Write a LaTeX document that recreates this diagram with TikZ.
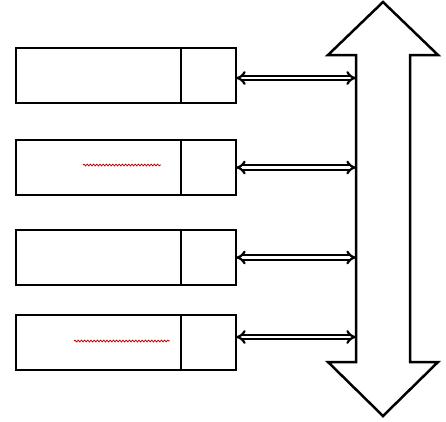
\documentclass[tikz,border=0pt]{standalone}
\usetikzlibrary{positioning,arrows.meta,decorations.pathmorphing}
\tikzstyle{ModBase}=[rectangle, draw=black, line width=2.5pt, outer sep=0pt, minimum width=165pt, minimum height=55pt]
\tikzstyle{ModPort}=[rectangle, draw=black, line width=2.5pt, outer sep=0pt, minimum width=55pt, minimum height=55pt]
\tikzstyle{BusLink}=[{Implies}-{Implies}, double, double distance=2.2pt, line width=2.2pt]
\tikzstyle{BusBody}=[draw=black, line width=2.5pt, fill=white, line join=miter]
\tikzstyle{Squiggle}=[draw=red!75!black, line width=0.8pt, decorate, decoration={snake, amplitude=0.9pt, segment length=3.2pt}]

\begin{document}
\begin{tikzpicture}[x=1pt, y=-1pt]
			\useasboundingbox (0,0) rectangle (446,421);

			%Nodos
			\node[ModBase]		(mod1)		at (98.5,75.5)			{};
			\node[ModPort]		(mod1_port)	[right=0pt of mod1]		{};

			\node[ModBase]		(mod2)		[below=37pt of mod1]		{};
			\node[ModPort]		(mod2_port)	[right=0pt of mod2]		{};

			\node[ModBase]		(mod3)		[below=35pt of mod2]		{};
			\node[ModPort]		(mod3_port)	[right=0pt of mod3]		{};

			\node[ModBase]		(mod4)		[below=30pt of mod3]		{};
			\node[ModPort]		(mod4_port)	[right=0pt of mod4]		{};

			%Bus
			\draw[BusBody] (383,2) -- (438,55) -- (410,55) -- (410,362) -- (438,362) -- (383,416)
				-- (328,362) -- (356,362) -- (356,55) -- (328,55) -- cycle;
			\coordinate (bus_left) at (356,0);

			%Lineas
			\draw[BusLink] ([yshift=-2.5pt]mod1_port.east) -- ([yshift=-2.5pt]mod1_port.east -| bus_left);
			\draw[BusLink] (mod2_port.east) -- (mod2_port.east -| bus_left);
			\draw[BusLink] (mod3_port.east) -- (mod3_port.east -| bus_left);
			\draw[BusLink] ([yshift=5.5pt]mod4_port.east) -- ([yshift=5.5pt]mod4_port.east -| bus_left);

			%Subrayados
			\draw[Squiggle] (83,165) -- (161,165);
			\draw[Squiggle] (74,341) -- (170,341);

		\end{tikzpicture}
\end{document}
